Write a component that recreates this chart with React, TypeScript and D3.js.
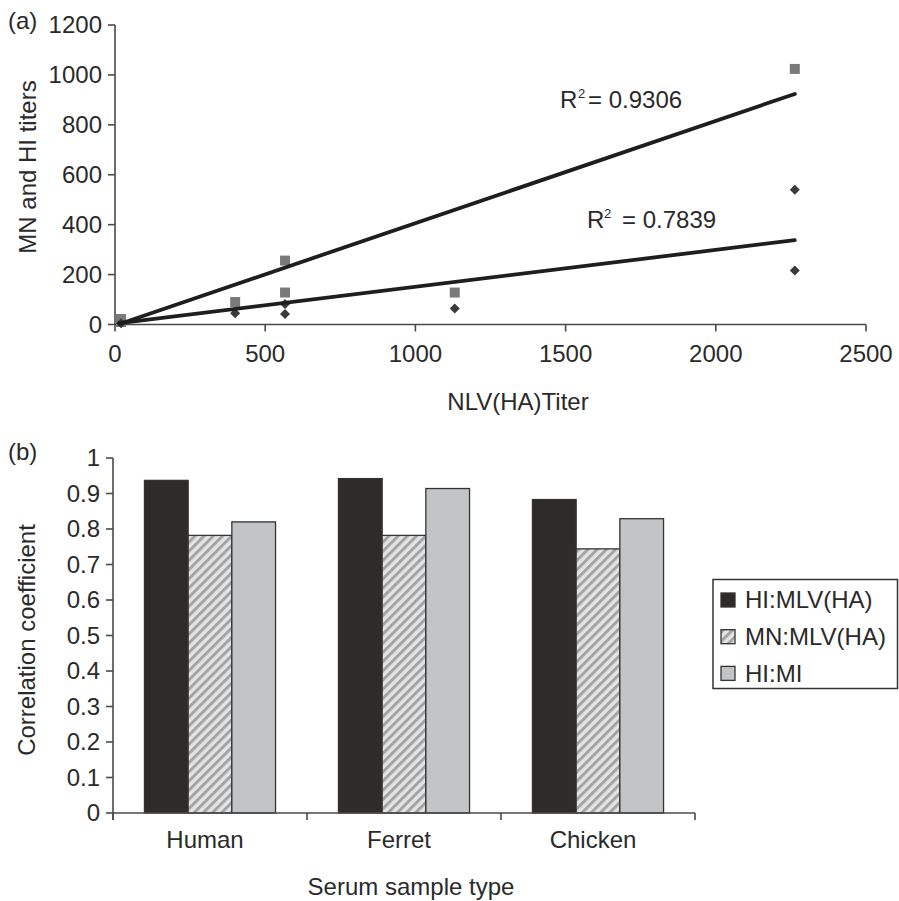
import React from "react";
import * as d3 from "d3";

// ---------- Panel (a) data ----------
const yTicksA = [0, 200, 400, 600, 800, 1000, 1200];
const xTicksA = [0, 500, 1000, 1500, 2000, 2500];
const squareX = [20, 20, 400, 566, 566, 1131, 2263];
const squareY = [10, 22, 90, 256, 128, 128, 1024];
const diamondX = [20, 400, 566, 566, 1131, 2263, 2263];
const diamondY = [5, 45, 42, 82, 64, 540, 216];
const trendSlopes = [0.41, 0.148];
const trendIntercepts = [-4, 3];
const trendXRange = [15, 2263];
const rSquaredValues = ["0.9306", "0.7839"];

// ---------- Panel (b) data ----------
const categories = ["Human", "Ferret", "Chicken"];
const seriesNames = ["HI:MLV(HA)", "MN:MLV(HA)", "HI:MI"];
const hiMlvValues = [0.937, 0.942, 0.883];
const mnMlvValues = [0.782, 0.782, 0.744];
const hiMiValues = [0.82, 0.914, 0.829];
const yTicksB = [0, 0.1, 0.2, 0.3, 0.4, 0.5, 0.6, 0.7, 0.8, 0.9, 1];

const FONT = "'Liberation Sans', Arial, Helvetica, sans-serif";
const TXT = "#2a2a2a";
const AX = "#4a4a4a";

export default function App() {
  // panel (a) scales
  const xA = d3.scaleLinear().domain([0, 2500]).range([115, 866]);
  const yA = d3.scaleLinear().domain([0, 1200]).range([324.5, 25]);

  // panel (b) scales
  const x0 = d3.scaleBand<string>().domain(categories).range([113, 695]).paddingInner(0).paddingOuter(0);
  const x1 = d3
    .scaleBand<string>()
    .domain(seriesNames)
    .range([0, x0.bandwidth()])
    .paddingInner(0)
    .paddingOuter(0.72);
  const yB = d3.scaleLinear().domain([0, 1]).range([813, 458]);

  const seriesValues = [hiMlvValues, mnMlvValues, hiMiValues];
  const seriesFill = ["#2e2b2b", "url(#hatch)", "#c2c4c6"];

  const squares = squareX.map((x, i) => ({ x, y: squareY[i] }));
  const diamonds = diamondX.map((x, i) => ({ x, y: diamondY[i] }));
  const diamondPath = d3.symbol().type(d3.symbolDiamond2).size(64)() as string;

  const trends = trendSlopes.map((m, k) => {
    const b = trendIntercepts[k];
    const pts = trendXRange.map((x) => [xA(x), yA(m * x + b)] as [number, number]);
    return d3.line()(pts) as string;
  });

  const rLabelPos = [
    { x: 560, y: 108, sx: 578, eq: 588 },
    { x: 587, y: 228, sx: 604, eq: 622 },
  ];

  const bandStart = categories.map((c) => x0(c) as number);
  const boundaryTicks = [...bandStart, 695];

  return (
    <svg
      width={899}
      height={901}
      style={{ position: "absolute", left: 0, top: 0, display: "block", background: "#fff" }}
      fontFamily={FONT}
    >
      <defs>
        <pattern id="hatch" width="6.5" height="6.5" patternUnits="userSpaceOnUse" patternTransform="rotate(45)">
          <rect width="6.5" height="6.5" fill="#e4e4e4" />
          <rect x="0" y="0" width="3" height="6.5" fill="#a4a4a4" />
        </pattern>
      </defs>
      <rect width={899} height={901} fill="#fff" />

      {/* ================= Panel (a) ================= */}
      <text x={8} y={29} fontSize={24} fill={TXT}>(a)</text>

      {/* y axis */}
      <line x1={115} x2={115} y1={yA(1200)} y2={yA(0)} stroke={AX} strokeWidth={1.6} />
      {yTicksA.map((t) => (
        <g key={"ya" + t}>
          <line x1={108} x2={115} y1={yA(t)} y2={yA(t)} stroke={AX} strokeWidth={1.6} />
          <text x={102} y={yA(t)} dy="0.35em" textAnchor="end" fontSize={24} fill={TXT}>
            {t}
          </text>
        </g>
      ))}
      {/* x axis */}
      <line x1={xA(0)} x2={xA(2500)} y1={yA(0)} y2={yA(0)} stroke={AX} strokeWidth={1.6} />
      {xTicksA.map((t) => (
        <g key={"xa" + t}>
          <line x1={xA(t)} x2={xA(t)} y1={yA(0)} y2={yA(0) + 7} stroke={AX} strokeWidth={1.6} />
          <text x={xA(t)} y={362} textAnchor="middle" fontSize={24} fill={TXT}>
            {t}
          </text>
        </g>
      ))}
      <text x={518} y={410} textAnchor="middle" fontSize={24} fill={TXT}>NLV(HA)Titer</text>
      <text
        transform={`translate(36,167) rotate(-90)`}
        textAnchor="middle"
        fontSize={24}
        fill={TXT}
      >
        MN and HI titers
      </text>

      {/* points */}
      {squares.map((p, i) => (
        <rect key={"sq" + i} x={xA(p.x) - 5} y={yA(p.y) - 5} width={10} height={10} fill="#7a7a7a" />
      ))}
      {diamonds.map((p, i) => (
        <path key={"dm" + i} d={diamondPath} transform={`translate(${xA(p.x)},${yA(p.y)})`} fill="#3a3a3a" />
      ))}

      {/* trend lines */}
      {trends.map((d, k) => (
        <path key={"tr" + k} d={d} stroke="#1e1e1e" strokeWidth={3.8} fill="none" strokeLinecap="round" />
      ))}

      {/* R^2 labels */}
      {rSquaredValues.map((v, k) => (
        <g key={"r2" + k} fill={TXT}>
          <text x={rLabelPos[k].x} y={rLabelPos[k].y} fontSize={24}>R</text>
          <text x={rLabelPos[k].sx} y={rLabelPos[k].y - 10} fontSize={13}>2</text>
          <text x={rLabelPos[k].eq} y={rLabelPos[k].y} fontSize={24}>{"= " + v}</text>
        </g>
      ))}

      {/* ================= Panel (b) ================= */}
      <text x={8} y={460} fontSize={24} fill={TXT}>(b)</text>

      {/* bars */}
      {categories.map((c, ci) => (
        <g key={"cat" + c} transform={`translate(${x0(c)},0)`}>
          {seriesNames.map((s, si) => {
            const v = seriesValues[si][ci];
            return (
              <rect
                key={s}
                x={x1(s)}
                y={yB(v)}
                width={x1.bandwidth()}
                height={yB(0) - yB(v)}
                fill={seriesFill[si]}
                stroke="#333"
                strokeWidth={1.3}
              />
            );
          })}
        </g>
      ))}

      {/* y axis */}
      <line x1={113} x2={113} y1={yB(1)} y2={yB(0) + 7} stroke={AX} strokeWidth={1.6} />
      {yTicksB.map((t) => (
        <g key={"yb" + t}>
          <line x1={106} x2={113} y1={yB(t)} y2={yB(t)} stroke={AX} strokeWidth={1.6} />
          <text x={100} y={yB(t)} dy="0.35em" textAnchor="end" fontSize={24} fill={TXT}>
            {String(+t.toFixed(1))}
          </text>
        </g>
      ))}
      {/* x axis */}
      <line x1={113} x2={695} y1={yB(0)} y2={yB(0)} stroke={AX} strokeWidth={1.6} />
      {boundaryTicks.map((t, i) => (
        <line key={"xb" + i} x1={t} x2={t} y1={yB(0)} y2={yB(0) + 7} stroke={AX} strokeWidth={1.6} />
      ))}
      {categories.map((c) => (
        <text key={"cl" + c} x={(x0(c) as number) + x0.bandwidth() / 2 - 5} y={848} textAnchor="middle" fontSize={24} fill={TXT}>
          {c}
        </text>
      ))}
      <text x={411} y={895} textAnchor="middle" fontSize={24} fill={TXT}>Serum sample type</text>
      <text transform={`translate(35,640) rotate(-90)`} textAnchor="middle" fontSize={24} fill={TXT}>
        Correlation coefficient
      </text>

      {/* legend */}
      <rect x={713} y={579.5} width={184.5} height={109} fill="#fff" stroke="#333" strokeWidth={1.5} />
      {seriesNames.map((s, i) => {
        const cy = 600 + i * 36.7;
        return (
          <g key={"lg" + s}>
            <rect x={721} y={cy - 7} width={14} height={14} fill={seriesFill[i]} stroke="#333" strokeWidth={1.3} />
            <text x={745} y={cy} dy="0.35em" fontSize={24} fill={TXT}>
              {s}
            </text>
          </g>
        );
      })}
    </svg>
  );
}
